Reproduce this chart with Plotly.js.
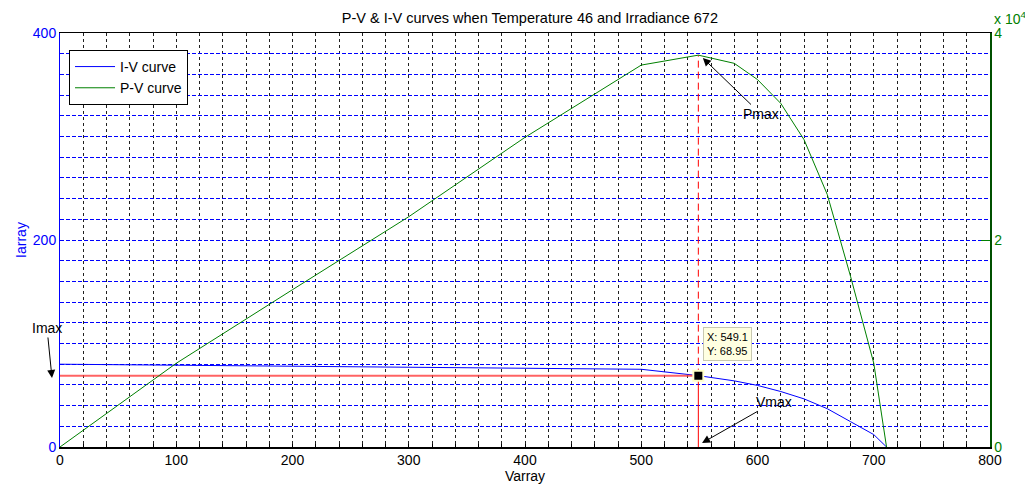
<!DOCTYPE html>
<html>
<head>
<meta charset="utf-8">
<script src="https://cdn.plot.ly/plotly-3.0.1.min.js"></script>
<style>html,body{margin:0;padding:0;background:#fff;}#chart{width:1025px;height:488px;}</style>
</head>
<body>
<div id="chart"></div>
<script>
// I-V curve (Varray vs Iarray)
const ivVoltage = [0, 100, 200, 300, 400, 500, 549.1, 580, 600, 620, 640, 660, 680, 700, 711];
const ivCurrent = [80, 79.1, 78.2, 77.2, 76.2, 75.1, 68.95, 63.9, 59.5, 53.6, 46.5, 37, 24.5, 12, 0];
// P-V curve (Varray vs Power)
const pvVoltage = [0, 100, 200, 300, 400, 500, 549.1, 580, 600, 620, 640, 660, 680, 700, 711];
const pvPower = [0, 8090, 15200, 22250, 29920, 36900, 37860, 37070, 35500, 33200, 29700, 24400, 16500, 8100, 0];
// Maximum power point
const vmax = 549.1;
const imax = 68.95;
const pmaxLeftUnits = 378.6;
// Axis ticks / grid positions
const xGridVals = [0,20,40,60,80,100,120,140,160,180,200,220,240,260,280,300,320,340,360,380,400,
                   420,440,460,480,500,520,540,560,580,600,620,640,660,680,700,720,740,760,780,800];
const xTickLabels = {0:'0',100:'100',200:'200',300:'300',400:'400',500:'500',600:'600',700:'700',800:'800'};
const yGridVals = [0,20,40,60,80,100,120,140,160,180,200,220,240,260,280,300,320,340,360,380,400];
const yTickLabels = {0:'0',200:'200',400:'400'};
const y2TickVals = [0, 20000, 40000];
const y2TickText = ['0', '2', '4'];

const BLUE = '#0000ff', GREEN = '#008000', RED = '#ff0000';
const FONT = 'Liberation Sans, Arial, Helvetica, sans-serif';

const traces = [
  {x: ivVoltage, y: ivCurrent, type: 'scatter', mode: 'lines', name: 'I-V curve',
   line: {color: BLUE, width: 1}, xaxis: 'x', yaxis: 'y'},
  {x: pvVoltage, y: pvPower, type: 'scatter', mode: 'lines', name: 'P-V curve',
   line: {color: GREEN, width: 1}, xaxis: 'x', yaxis: 'y2'},
  {x: [0, vmax], y: [imax, imax], type: 'scatter', mode: 'lines', showlegend: false,
   line: {color: 'rgba(255,60,60,0.8)', width: 2}, yaxis: 'y', hoverinfo: 'skip'},
  {x: [vmax, vmax], y: [0, imax], type: 'scatter', mode: 'lines', showlegend: false,
   line: {color: RED, width: 1}, yaxis: 'y', hoverinfo: 'skip'},
  {x: [vmax, vmax], y: [imax, pmaxLeftUnits], type: 'scatter', mode: 'lines', showlegend: false,
   line: {color: RED, width: 1, dash: '7px,4px'}, yaxis: 'y', hoverinfo: 'skip'},
  {x: [vmax], y: [imax], type: 'scatter', mode: 'markers', showlegend: false,
   marker: {symbol: 'square', size: 10, color: '#000', line: {color: '#ffffc8', width: 2}}, yaxis: 'y'}
];

const layout = {
  width: 1025, height: 488,
  margin: {l: 60, r: 35, t: 33, b: 41},
  paper_bgcolor: '#fff', plot_bgcolor: '#fff',
  font: {family: FONT, size: 14, color: '#000'},
  title: {text: 'P-V & I-V curves when Temperature 46 and Irradiance 672',
          font: {family: FONT, size: 14.5, color: '#000'},
          x: 0.517, xanchor: 'center', y: 0.963, yanchor: 'middle', yref: 'container'},
  showlegend: true,
  legend: {x: 0.0097, y: 0.959, xanchor: 'left', yanchor: 'top', bgcolor: '#fff',
           bordercolor: '#000', borderwidth: 1, font: {family: FONT, size: 14, color: '#000'},
           tracegroupgap: 0, itemwidth: 40},
  xaxis: {range: [0, 800], tickmode: 'array', tickvals: xGridVals,
          ticktext: xGridVals.map(v => xTickLabels[v] || ''),
          showgrid: true, gridcolor: '#202020', gridwidth: 1, griddash: '3px,3px',
          showline: true, linecolor: '#000', linewidth: 1.5, mirror: true,
          ticks: 'inside', ticklen: 3, tickcolor: '#000',
          tickfont: {family: FONT, size: 14, color: '#000'}, zeroline: false,
          title: {text: 'Varray', font: {family: FONT, size: 14, color: '#000'}, standoff: 4}},
  yaxis: {range: [0, 400], tickmode: 'array', tickvals: yGridVals,
          ticktext: yGridVals.map(v => yTickLabels[v] || ''),
          showgrid: true, gridcolor: BLUE, gridwidth: 1, griddash: '4px,2px',
          showline: true, linecolor: BLUE, linewidth: 1,
          ticks: '', tickcolor: BLUE,
          tickfont: {family: FONT, size: 14, color: BLUE}, zeroline: false,
          title: {text: 'Iarray', font: {family: FONT, size: 14, color: BLUE}, standoff: 2}},
  yaxis2: {range: [0, 40000], overlaying: 'y', side: 'right', anchor: 'x', tickmode: 'array',
           tickvals: y2TickVals, ticktext: y2TickText,
           showgrid: false, showline: true, linecolor: '#005000', linewidth: 1.5,
           ticks: 'inside', ticklen: 9, tickcolor: GREEN,
           tickfont: {family: FONT, size: 14, color: GREEN}, zeroline: false},
  annotations: [
    {x: 553, y: 375.8, xref: 'x', yref: 'y', text: 'Pmax', showarrow: true,
     ax: 58, ay: 56, arrowhead: 2, arrowsize: 1.6, arrowwidth: 1, arrowcolor: '#000',
     font: {family: FONT, size: 14, color: '#000'}},
    {x: 552.3, y: 3.9, xref: 'x', yref: 'y', text: 'Vmax', showarrow: true,
     ax: 72, ay: -41, arrowhead: 2, arrowsize: 1.6, arrowwidth: 1, arrowcolor: '#000',
     font: {family: FONT, size: 14, color: '#000'}},
    {x: -0.0086, y: 66.7, xref: 'paper', yref: 'y', text: 'Imax', showarrow: true,
     ax: -5, ay: -50, arrowhead: 2, arrowsize: 1.6, arrowwidth: 1, arrowcolor: '#000',
     font: {family: FONT, size: 14, color: '#000'}},
    {x: 553, y: 83, xref: 'x', yref: 'y', xanchor: 'left', yanchor: 'bottom', showarrow: false,
     text: 'X: 549.1<br>Y: 68.95', align: 'left', bgcolor: '#ffffe1', bordercolor: '#c8c8b0',
     borderwidth: 1, borderpad: 3, font: {family: FONT, size: 11, color: '#000'}},
    {x: 1.002, y: 1.036, xref: 'paper', yref: 'paper', xanchor: 'left', yanchor: 'middle',
     showarrow: false, text: 'x 10<sup>4</sup>', font: {family: FONT, size: 14, color: GREEN}}
  ]
};

Plotly.newPlot('chart', traces, layout, {displayModeBar: false, staticPlot: true});
</script>
</body>
</html>
